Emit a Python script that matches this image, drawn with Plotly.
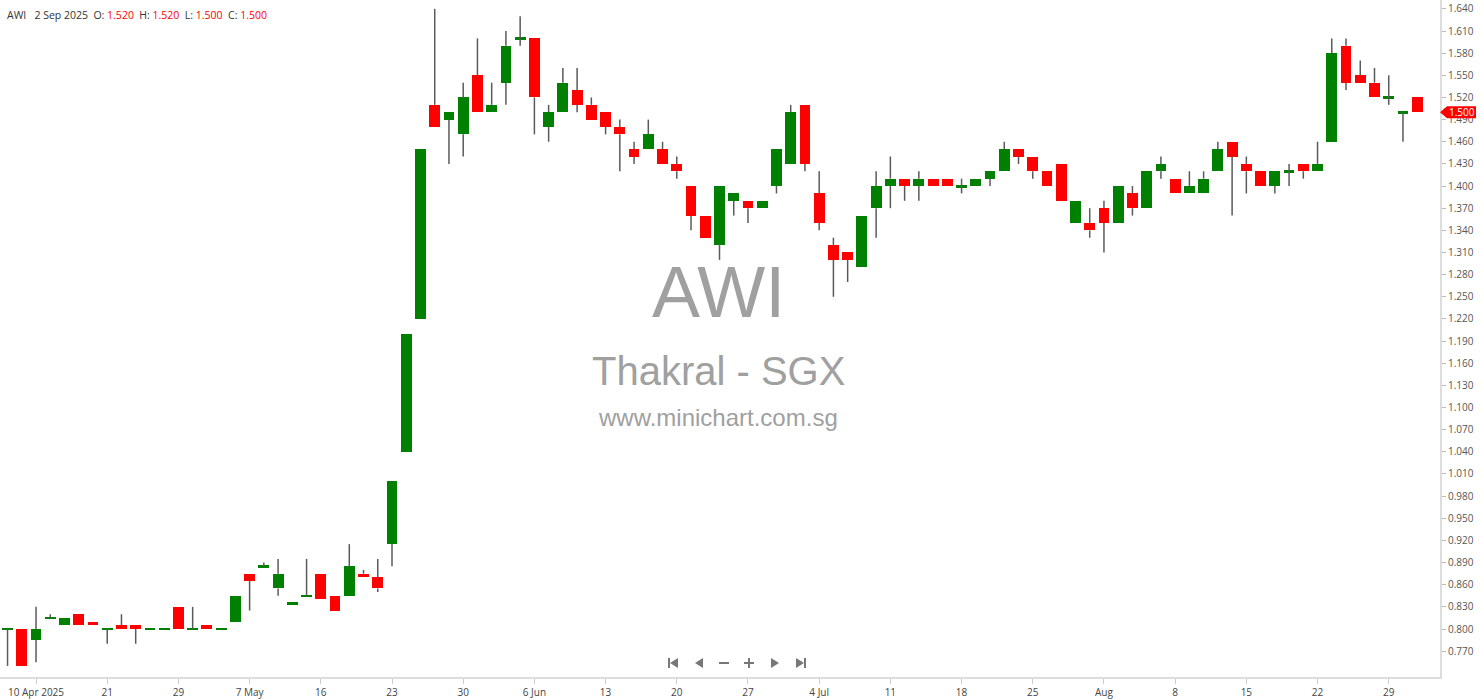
import plotly.graph_objects as go

# ---------------- data ----------------
dates = [
    "2025-04-08", "2025-04-09", "2025-04-10", "2025-04-11", "2025-04-14", "2025-04-15", "2025-04-16",
    "2025-04-21", "2025-04-22", "2025-04-23", "2025-04-24", "2025-04-25", "2025-04-29", "2025-04-30",
    "2025-05-02", "2025-05-05", "2025-05-06", "2025-05-07", "2025-05-08", "2025-05-09", "2025-05-13",
    "2025-05-14", "2025-05-16", "2025-05-19", "2025-05-20", "2025-05-21", "2025-05-22", "2025-05-23",
    "2025-05-26", "2025-05-27", "2025-05-28", "2025-05-29", "2025-05-30",
    "2025-06-02", "2025-06-03", "2025-06-04", "2025-06-05", "2025-06-06",
    "2025-06-09", "2025-06-10", "2025-06-11", "2025-06-12", "2025-06-13",
    "2025-06-16", "2025-06-17", "2025-06-18", "2025-06-19", "2025-06-20",
    "2025-06-23", "2025-06-24", "2025-06-25", "2025-06-26", "2025-06-27",
    "2025-06-30", "2025-07-01", "2025-07-02", "2025-07-03", "2025-07-04",
    "2025-07-07", "2025-07-08", "2025-07-09", "2025-07-10", "2025-07-11",
    "2025-07-14", "2025-07-15", "2025-07-16", "2025-07-17", "2025-07-18",
    "2025-07-21", "2025-07-22", "2025-07-23", "2025-07-24", "2025-07-25",
    "2025-07-28", "2025-07-29", "2025-07-30", "2025-07-31", "2025-08-01",
    "2025-08-04", "2025-08-05", "2025-08-06", "2025-08-07", "2025-08-08",
    "2025-08-11", "2025-08-12", "2025-08-13", "2025-08-14", "2025-08-15",
    "2025-08-18", "2025-08-19", "2025-08-20", "2025-08-21", "2025-08-22",
    "2025-08-25", "2025-08-26", "2025-08-27", "2025-08-28", "2025-08-29",
    "2025-09-01", "2025-09-02",
]

opens = [
    0.800, 0.800, 0.785, 0.815, 0.805, 0.820, 0.810, 0.800, 0.805, 0.805,
    0.800, 0.800, 0.830, 0.800, 0.805, 0.800, 0.810, 0.875, 0.885, 0.855,
    0.835, 0.845, 0.875, 0.845, 0.845, 0.875, 0.870, 0.915, 1.040, 1.220,
    1.510, 1.490, 1.470, 1.550, 1.500, 1.540, 1.600, 1.600, 1.480, 1.500,
    1.530, 1.510, 1.500, 1.480, 1.450, 1.450, 1.450, 1.430, 1.400, 1.360,
    1.320, 1.380, 1.380, 1.370, 1.400, 1.430, 1.510, 1.390, 1.320, 1.310,
    1.290, 1.370, 1.400, 1.410, 1.400, 1.410, 1.410, 1.400, 1.400, 1.410,
    1.420, 1.450, 1.440, 1.420, 1.430, 1.350, 1.350, 1.370, 1.350, 1.390,
    1.370, 1.420, 1.410, 1.390, 1.390, 1.420, 1.460, 1.430, 1.420, 1.400,
    1.420, 1.430, 1.420, 1.460, 1.590, 1.550, 1.540, 1.520, 1.500, 1.520,
]
highs = [
    0.800, 0.800, 0.830, 0.820, 0.815, 0.820, 0.810, 0.800, 0.820, 0.805,
    0.800, 0.800, 0.830, 0.830, 0.805, 0.800, 0.845, 0.875, 0.890, 0.895,
    0.835, 0.895, 0.875, 0.845, 0.915, 0.880, 0.895, 1.000, 1.200, 1.450,
    1.640, 1.500, 1.540, 1.600, 1.540, 1.610, 1.630, 1.600, 1.510, 1.560,
    1.560, 1.520, 1.500, 1.490, 1.460, 1.490, 1.460, 1.440, 1.400, 1.360,
    1.400, 1.390, 1.380, 1.380, 1.450, 1.510, 1.510, 1.420, 1.330, 1.310,
    1.360, 1.420, 1.440, 1.410, 1.420, 1.410, 1.410, 1.410, 1.410, 1.420,
    1.460, 1.450, 1.440, 1.420, 1.430, 1.380, 1.370, 1.380, 1.400, 1.400,
    1.420, 1.440, 1.410, 1.420, 1.420, 1.460, 1.460, 1.440, 1.420, 1.420,
    1.430, 1.430, 1.460, 1.600, 1.600, 1.570, 1.560, 1.550, 1.500, 1.520,
]
lows = [
    0.750, 0.750, 0.755, 0.815, 0.805, 0.805, 0.805, 0.780, 0.800, 0.780,
    0.800, 0.800, 0.800, 0.800, 0.800, 0.800, 0.810, 0.825, 0.885, 0.845,
    0.835, 0.845, 0.840, 0.825, 0.845, 0.870, 0.850, 0.885, 1.040, 1.220,
    1.480, 1.430, 1.440, 1.500, 1.500, 1.510, 1.590, 1.470, 1.460, 1.500,
    1.500, 1.490, 1.470, 1.420, 1.430, 1.450, 1.430, 1.410, 1.340, 1.330,
    1.300, 1.360, 1.350, 1.370, 1.390, 1.430, 1.420, 1.340, 1.250, 1.270,
    1.290, 1.330, 1.370, 1.380, 1.380, 1.400, 1.400, 1.390, 1.400, 1.400,
    1.420, 1.430, 1.410, 1.400, 1.380, 1.350, 1.330, 1.310, 1.350, 1.360,
    1.370, 1.410, 1.390, 1.390, 1.390, 1.420, 1.360, 1.390, 1.400, 1.390,
    1.400, 1.410, 1.420, 1.460, 1.530, 1.540, 1.520, 1.510, 1.460, 1.500,
]
closes = [
    0.800, 0.750, 0.800, 0.815, 0.815, 0.805, 0.805, 0.800, 0.800, 0.800,
    0.800, 0.800, 0.800, 0.800, 0.800, 0.800, 0.845, 0.865, 0.885, 0.875,
    0.835, 0.845, 0.840, 0.825, 0.885, 0.870, 0.855, 1.000, 1.200, 1.450,
    1.480, 1.500, 1.520, 1.500, 1.510, 1.590, 1.600, 1.520, 1.500, 1.540,
    1.510, 1.490, 1.480, 1.470, 1.440, 1.470, 1.430, 1.420, 1.360, 1.330,
    1.400, 1.390, 1.370, 1.380, 1.450, 1.500, 1.430, 1.350, 1.300, 1.300,
    1.360, 1.400, 1.410, 1.400, 1.410, 1.400, 1.400, 1.400, 1.410, 1.420,
    1.450, 1.440, 1.420, 1.400, 1.380, 1.380, 1.340, 1.350, 1.400, 1.370,
    1.420, 1.430, 1.390, 1.400, 1.410, 1.450, 1.440, 1.420, 1.400, 1.420,
    1.420, 1.420, 1.430, 1.580, 1.540, 1.540, 1.520, 1.520, 1.500, 1.500,
]

tick_dates = ["2025-04-10", "2025-04-21", "2025-04-29", "2025-05-07", "2025-05-16", "2025-05-23",
              "2025-05-30", "2025-06-06", "2025-06-13", "2025-06-20", "2025-06-27", "2025-07-04",
              "2025-07-11", "2025-07-18", "2025-07-25", "2025-08-01", "2025-08-08", "2025-08-15",
              "2025-08-22", "2025-08-29"]
tick_labels = ["10 Apr 2025", "21", "29", "7 May", "16", "23", "30", "6 Jun", "13", "20", "27",
               "4 Jul", "11", "18", "25", "Aug", "8", "15", "22", "29"]

price_ticks = [0.770, 0.800, 0.830, 0.860, 0.890, 0.920, 0.950, 0.980, 1.010, 1.040,
               1.070, 1.100, 1.130, 1.160, 1.190, 1.220, 1.250, 1.280, 1.310, 1.340,
               1.370, 1.400, 1.430, 1.460, 1.490, 1.520, 1.550, 1.580, 1.610, 1.640]

symbol = "AWI"
company = "Thakral - SGX"
site = "www.minichart.com.sg"
last_date_label = "2 Sep 2025"

GREEN = "#008000"
RED = "#FF0000"
WICK = "#5a5a5a"

# ---------------- derived geometry ----------------
idx = list(range(len(dates)))
body_lo = [min(o, c) for o, c in zip(opens, closes)]
body_hi = [max(o, c) for o, c in zip(opens, closes)]
DOJI = 0.0026
bases, heights = [], []
for lo, hi in zip(body_lo, body_hi):
    if hi - lo < 1e-9:
        bases.append(lo - DOJI / 2)
        heights.append(DOJI)
    else:
        bases.append(lo)
        heights.append(hi - lo)
colors = [GREEN if c >= o else RED for o, c in zip(opens, closes)]

wx, wy = [], []
for i, lo, hi, blo, bhi in zip(idx, lows, highs, body_lo, body_hi):
    if blo - lo > 1e-9:
        wx += [i, i, None]
        wy += [lo, blo, None]
    if hi - bhi > 1e-9:
        wx += [i, i, None]
        wy += [bhi, hi, None]

fig = go.Figure()
fig.add_trace(go.Scatter(x=wx, y=wy, mode="lines", line=dict(color=WICK, width=1.5),
                         hoverinfo="skip", showlegend=False))
fig.add_trace(go.Bar(x=idx, y=heights, base=bases, width=0.76, marker=dict(color=colors, line=dict(width=0)),
                     customdata=list(zip(dates, opens, highs, lows, closes)),
                     hovertemplate="%{customdata[0]}<br>O %{customdata[1]:.3f} H %{customdata[2]:.3f}"
                                   " L %{customdata[3]:.3f} C %{customdata[4]:.3f}<extra></extra>",
                     showlegend=False))

PW, PH = 1440, 677
def px(x):
    return x / PW
def py(y):
    return (PH - y) / PH

tickvals = [dates.index(d) for d in tick_dates]

FONT = "Open Sans, DejaVu Sans, sans-serif"
fig.update_layout(
    width=1480, height=699,
    margin=dict(l=0, r=40, t=0, b=22),
    paper_bgcolor="white", plot_bgcolor="white",
    bargap=0, showlegend=False,
    font=dict(family=FONT, size=10, color="#555"),
    xaxis=dict(range=[-0.53, 100.6], tickmode="array", tickvals=tickvals, ticktext=tick_labels,
               showgrid=False, zeroline=False, showline=True, linecolor="#dddddd", linewidth=2,
               ticks="outside", ticklen=5, tickcolor="#cccccc", tickfont=dict(size=10, color="#444"),
               fixedrange=True),
    yaxis=dict(range=[0.735, 1.652], side="right", tickmode="array", tickvals=price_ticks,
               ticktext=[f"{v:.3f}" for v in price_ticks],
               showgrid=False, zeroline=False, showline=True, linecolor="#dddddd", linewidth=2,
               ticks="outside", ticklen=4, tickcolor="#bbbbbb", tickfont=dict(size=10, color="#555"),
               fixedrange=True),
)

# watermark
fig.add_annotation(text=symbol, x=px(718), y=py(292), xref="paper", yref="paper", showarrow=False,
                   font=dict(family="Liberation Sans, Arial", size=72, color="#a0a0a0"))
fig.add_annotation(text=company, x=px(718), y=py(371), xref="paper", yref="paper", showarrow=False,
                   font=dict(family="Liberation Sans, Arial", size=40, color="#a0a0a0"))
fig.add_annotation(text=site, x=px(718), y=py(417), xref="paper", yref="paper", showarrow=False,
                   font=dict(family="Liberation Sans, Arial", size=24, color="#a0a0a0"))

# header (last candle OHLC)
o, h, l, c = opens[-1], highs[-1], lows[-1], closes[-1]
sp = "\u00a0"
hdr = (f"{symbol}{sp*3}{last_date_label}{sp*2}O:{sp}<span style='color:red'>{o:.3f}</span>{sp*2}"
       f"H:{sp}<span style='color:red'>{h:.3f}</span>{sp*2}L:{sp}<span style='color:red'>{l:.3f}</span>{sp*2}"
       f"C:{sp}<span style='color:red'>{c:.3f}</span>")
fig.add_annotation(text=hdr, x=px(5), y=py(15), xref="paper", yref="paper", xanchor="left",
                   yanchor="middle", showarrow=False, font=dict(family=FONT, size=10.5, color="#333"))

# last price badge
fig.add_shape(type="path", xref="paper", yref="y", xsizemode="pixel", ysizemode="pixel",
              xanchor=1, yanchor=c, path="M 0,0 L 7,6 L 36,6 L 36,-6 L 7,-6 Z",
              fillcolor=RED, line=dict(width=0), layer="above")
fig.add_annotation(text=f"{c:.3f}", x=1, y=c, xref="paper", yref="y", xanchor="left", xshift=7,
                   showarrow=False, font=dict(family=FONT, size=10, color="white"))

# navigation buttons
NAV = "#777777"
def tri(x_tip, x_base, yc, half=5):
    return (f"M {px(x_tip)},{py(yc)} L {px(x_base)},{py(yc - half)} L {px(x_base)},{py(yc + half)} Z")
yc = 663
fig.add_shape(type="rect", xref="paper", yref="paper", x0=px(668), x1=px(670), y0=py(668), y1=py(658),
              fillcolor=NAV, line=dict(width=0))
fig.add_shape(type="path", xref="paper", yref="paper", path=tri(670, 678, yc), fillcolor=NAV, line=dict(width=0))
fig.add_shape(type="path", xref="paper", yref="paper", path=tri(695, 703, yc), fillcolor=NAV, line=dict(width=0))
fig.add_shape(type="rect", xref="paper", yref="paper", x0=px(719), x1=px(729), y0=py(664), y1=py(662),
              fillcolor=NAV, line=dict(width=0))
fig.add_shape(type="rect", xref="paper", yref="paper", x0=px(744), x1=px(754), y0=py(664), y1=py(662),
              fillcolor=NAV, line=dict(width=0))
fig.add_shape(type="rect", xref="paper", yref="paper", x0=px(748), x1=px(750), y0=py(668), y1=py(658),
              fillcolor=NAV, line=dict(width=0))
fig.add_shape(type="path", xref="paper", yref="paper", path=tri(779, 771, yc), fillcolor=NAV, line=dict(width=0))
fig.add_shape(type="path", xref="paper", yref="paper", path=tri(804, 796, yc), fillcolor=NAV, line=dict(width=0))
fig.add_shape(type="rect", xref="paper", yref="paper", x0=px(804), x1=px(806), y0=py(668), y1=py(658),
              fillcolor=NAV, line=dict(width=0))

fig.write_html("out.html", config={"displayModeBar": False},
               post_script="document.body.style.margin='0';document.body.style.overflow='hidden';")
